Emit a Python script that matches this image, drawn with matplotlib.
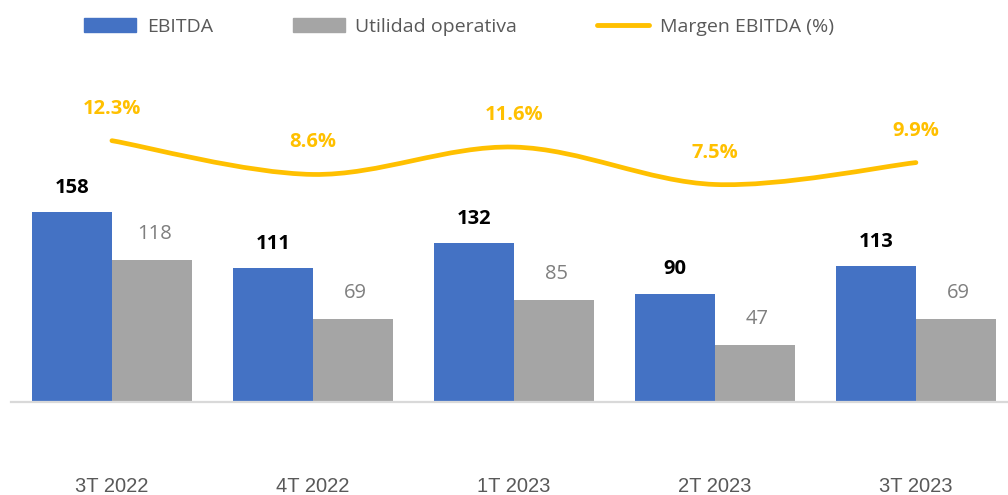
import matplotlib.pyplot as plt
import numpy as np
from matplotlib.path import Path
from matplotlib.patches import PathPatch, Patch
from matplotlib.lines import Line2D

quarters = ["3T 2022", "4T 2022", "1T 2023", "2T 2023", "3T 2023"]
ebitda = [158, 111, 132, 90, 113]
utilidad = [118, 69, 85, 47, 69]
margen = [12.3, 8.6, 11.6, 7.5, 9.9]

blue = "#4472C4"
gray = "#A5A5A5"
gold = "#FFC000"

fig = plt.figure(figsize=(10.08, 4.95), dpi=100)
ax = fig.add_axes([11 / 1008, (495 - 401.5) / 495, 997 / 1008, 341.5 / 495])

x = np.arange(len(quarters))
w = 0.4
b1 = ax.bar(x - w / 2, ebitda, w, color=blue)
b2 = ax.bar(x + w / 2, utilidad, w, color=gray)

ax.set_xlim(-0.502, 4.458)
ax.set_ylim(0, 284.6)

# value labels above the bars
for rect, v in zip(b1, ebitda):
    ax.annotate(f"{v}", (rect.get_x() + rect.get_width() / 2, v), xytext=(0, 17.5),
                textcoords="offset points", ha="center", va="center",
                fontsize=14.5, fontweight="bold", color="black", family="Open Sans")
for rect, v in zip(b2, utilidad):
    ax.annotate(f"{v}", (rect.get_x() + rect.get_width() / 2, v), xytext=(1.5, 18.5),
                textcoords="offset points", ha="center", va="center",
                fontsize=14.5, color="#7F7F7F", family="Open Sans")

for s in ["top", "left", "right"]:
    ax.spines[s].set_visible(False)
ax.spines["bottom"].set_color("#D9D9D9")
ax.spines["bottom"].set_linewidth(1.6)
ax.set_yticks([])
ax.set_xticks(x)
ax.set_xticklabels(quarters, fontsize=14.5, color="#595959", family="Liberation Sans")
ax.tick_params(axis="x", length=0, pad=54)

# secondary axis for the margin line (smoothed like Excel)
ax2 = ax.twinx()
ax2.set_ylim(-16.28, 21.14)
ax2.axis("off")
pts = np.column_stack([x, margen]).astype(float)
n = len(pts)
verts = [pts[0]]
codes = [Path.MOVETO]
for i in range(n - 1):
    p0 = pts[max(i - 1, 0)]
    p1 = pts[i]
    p2 = pts[i + 1]
    p3 = pts[min(i + 2, n - 1)]
    c1 = p1 + (p2 - p0) / 6
    c2 = p2 - (p3 - p1) / 6
    verts += [c1, c2, p2]
    codes += [Path.CURVE4] * 3
ax2.add_patch(PathPatch(Path(verts, codes), facecolor="none", edgecolor=gold,
                        linewidth=3.4, capstyle="round"))
for xi, m in zip(x, margen):
    ax2.annotate(f"{m:.1f}%", (xi, m), xytext=(0, 23), textcoords="offset points",
                 ha="center", va="center", fontsize=14.5, fontweight="bold",
                 color=gold, family="Open Sans")

handles = [Patch(color=blue), Patch(color=gray),
           Line2D([], [], color=gold, linewidth=3.5, solid_capstyle="round")]
labels = ["EBITDA", "Utilidad operativa", "Margen EBITDA (%)"]
fig.legend(handles, labels, loc="center", bbox_to_anchor=(459 / 1008, 1 - 27 / 495),
           ncol=3, frameon=False, handlelength=2.67, handleheight=0.72,
           handletextpad=0.55, columnspacing=4.1,
           prop={"family": "Open Sans", "size": 14}, labelcolor="#595959")

fig.savefig("out.png", dpi=100, facecolor="white")
